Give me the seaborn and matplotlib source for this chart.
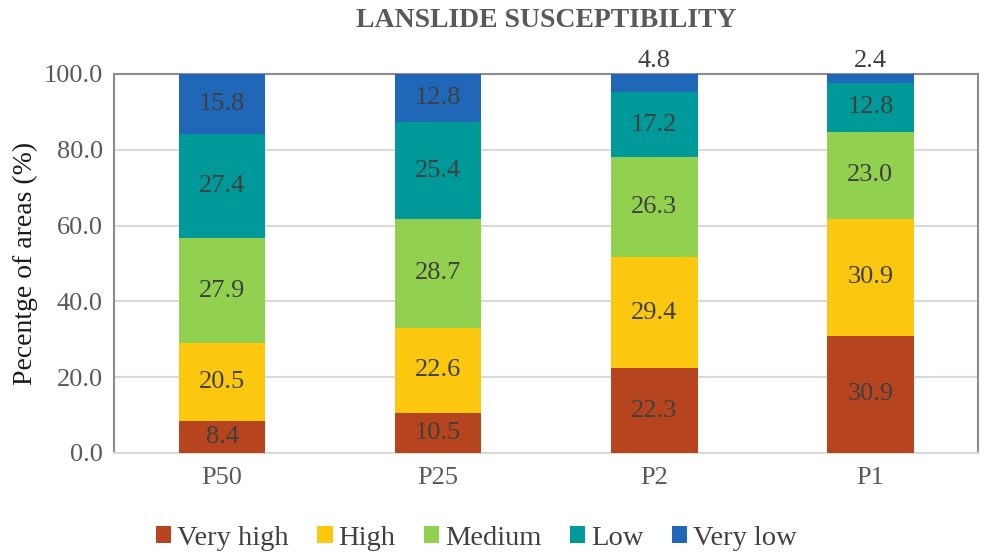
import numpy as np
import matplotlib
matplotlib.use("Agg")
import matplotlib.pyplot as plt
from matplotlib.patches import Patch
import seaborn as sns

periods = ["P50", "P25", "P2", "P1"]
classes = ["Very high", "High", "Medium", "Low", "Very low"]
very_high = [8.4, 10.5, 22.3, 30.9]
high = [20.5, 22.6, 29.4, 30.9]
medium = [27.9, 28.7, 26.3, 23.0]
low = [27.4, 25.4, 17.2, 12.8]
very_low = [15.8, 12.8, 4.8, 2.4]
y_ticks = [0, 20, 40, 60, 80, 100]

colors = ["#B5441F", "#FCC70F", "#92D050", "#00999A", "#2167B8"]
series = [very_high, high, medium, low, very_low]

sns.set_theme(style="white")
plt.rcParams["font.family"] = ["Liberation Serif", "DejaVu Serif"]

fig = plt.figure(figsize=(9.84, 5.55), dpi=100)
ax = fig.add_axes([0.1159, 0.1838, 0.8785, 0.6829])

vals = np.array(series)
cum = np.cumsum(vals, axis=0)

# stacked bars: draw cumulative totals from the top layer down
for i in range(len(classes) - 1, -1, -1):
    sns.barplot(x=periods, y=cum[i], color=colors[i], width=0.4,
                saturation=1, linewidth=0, ax=ax, zorder=3)

# segment labels
for i in range(len(classes)):
    for j in range(len(periods)):
        v = vals[i, j]
        if v < 6:
            ax.text(j, cum[i, j] + 0.6, f"{v:.1f}", ha="center", va="bottom",
                    fontsize=19, color="#404040", zorder=5)
        else:
            ax.text(j, cum[i, j] - v / 2, f"{v:.1f}", ha="center", va="center",
                    fontsize=19, color="#404040", zorder=5)

ax.set_ylim(0, 100)
ax.set_xlim(-0.5, 3.5)
ax.set_yticks(y_ticks)
ax.set_yticklabels([f"{t:.1f}" for t in y_ticks])
ax.yaxis.grid(True, color="#D9D9D9", linewidth=1.5, zorder=0)
ax.set_axisbelow(True)
ax.tick_params(axis="both", labelsize=19, colors="#595959", length=0, pad=8)
ax.tick_params(axis="x", pad=10)
for side in ["left", "top", "right"]:
    ax.spines[side].set_color("#8C8C8C")
    ax.spines[side].set_linewidth(1.5)
ax.spines["bottom"].set_color("#D9D9D9")
ax.spines["bottom"].set_linewidth(1.5)

ax.set_xlabel("")
ax.set_ylabel("Pecentge of areas (%)", fontsize=20, color="#1A1A1A", labelpad=4)

fig.text(0.555, 0.963, "LANSLIDE SUSCEPTIBILITY", ha="center", va="center",
         fontsize=20, fontweight="bold", color="#595959")

handles = [Patch(facecolor=c, edgecolor="none") for c in colors]
fig.legend(handles, classes, loc="center", bbox_to_anchor=(0.484, 0.030), ncol=5,
           frameon=False, fontsize=20.5, handlelength=0.54, handleheight=0.54,
           handletextpad=0.2, columnspacing=1.0, labelcolor="#404040")

fig.savefig("out.png", dpi=100)
